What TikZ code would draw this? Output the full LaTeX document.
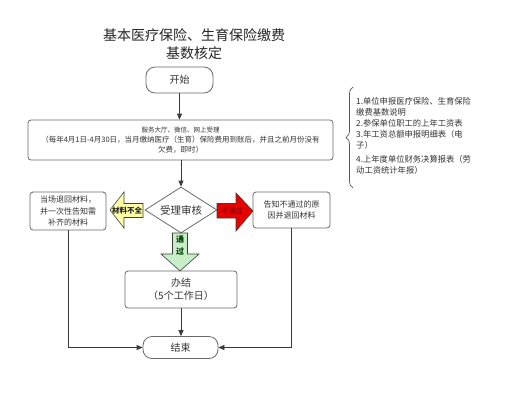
\documentclass[tikz,border=0pt]{standalone}
\usepackage{fontspec}
\setmainfont{Noto Sans CJK SC}
\usetikzlibrary{arrows.meta,decorations.pathreplacing,shapes.geometric}
\definecolor{linec}{HTML}{3A3A3A}
\definecolor{boxc}{HTML}{6A6A6A}
\definecolor{txt}{HTML}{333333}
\definecolor{yel}{HTML}{FFFFA6}
\definecolor{redf}{HTML}{E60000}
\definecolor{grn}{HTML}{C8EEC8}
\begin{document}
\begin{tikzpicture}[x=1pt,y=-1pt, text=txt,
  line/.style={draw=linec, line width=0.8pt},
  arr/.style={line, -{Triangle[length=6pt,width=5pt]}},
  box/.style={draw=boxc, line width=0.8pt, rounded corners=3pt, fill=white, inner sep=0pt, align=center},
  term/.style={draw=boxc, line width=0.8pt, rounded corners=9pt, inner sep=0pt, font=\fontsize{10}{12}\selectfont},
  fat/.style={draw=black!75, line width=0.6pt, line join=miter},
]
\useasboundingbox[fill=white] (0,0) rectangle (521,400);
\node[font=\fontsize{14}{18}\selectfont, align=center, inner sep=0pt, text=black!85] (title) at (194,44) {基本医疗保险、生育保险缴费\\基数核定};

\node[term, minimum width=67pt, minimum height=26pt] (start) at (179.5,80) {开始};

\node[box, minimum width=305pt, minimum height=40pt, font=\fontsize{7.5}{10}\selectfont] (wide) at (180.5,140)
  {{\fontsize{6.5}{10}\selectfont 服务大厅、微信、网上受理}\\（每年4月1日-4月30日，当月缴纳医疗（生育）保险费用到账后，并且之前月份没有\\欠费，即时）};

\draw[draw=black!65, line width=0.7pt, decorate, decoration={brace, amplitude=7pt}] (353,188) -- (353,87);
\node[anchor=north west, align=left, inner sep=0pt, font=\fontsize{8.3}{11}\selectfont] (docs) at (356,97.5)
  {1.单位申报医疗保险、生育保险\\缴费基数说明\\2.参保单位职工的上年工资表\\3.年工资总额申报明细表（电\\子）\\[2.5pt]4.上年度单位财务决算报表（劳\\动工资统计年报）};

\node[diamond, draw=boxc, line width=0.8pt, fill=white, inner sep=0pt, aspect=1.56, minimum width=72pt, minimum height=46pt, font=\fontsize{10.5}{12}\selectfont] (dia) at (181,210) {受理审核};

\node[box, minimum width=76pt, minimum height=38pt, font=\fontsize{8}{11.5}\selectfont] (left) at (68,211) {当场退回材料，\\并一次性告知需\\补齐的材料};
\node[box, minimum width=77pt, minimum height=36pt, font=\fontsize{8}{11.5}\selectfont] (right) at (291.5,210) {告知不通过的原\\因并退回材料};

\node[box, minimum width=112pt, minimum height=37pt, font=\fontsize{10}{13}\selectfont] (ban) at (181,289.5) {办结\\（5个工作日）};
\node[term, minimum width=75pt, minimum height=22pt] (end) at (180.5,347.5) {结束};

% fat arrows
\filldraw[fat, fill=yel] (110,210) -- (124,192) -- (124,203.5) -- (143,203.5) -- (143,217.5) -- (124,217.5) -- (124,228) -- cycle;
\node[inner sep=0pt, font=\fontsize{7.5}{9}\selectfont\bfseries, text=black!85] (ylab) at (127,210.5) {材料不全};

\filldraw[fat, fill=redf] (217,203.5) -- (236,203.5) -- (236,193) -- (253,211) -- (236,231) -- (236,218) -- (217,218) -- cycle;
\node[inner sep=0pt, font=\fontsize{7}{9}\selectfont, text=red!45!black] (rlab) at (232,211) {不通过};

\filldraw[fat, fill=grn] (172.5,233) -- (187.5,233) -- (187.5,254) -- (199,254) -- (180,271) -- (161,254) -- (172.5,254) -- cycle;
\node[inner sep=0pt, align=center, font=\fontsize{8}{12}\selectfont\bfseries, text=green!25!black] (glab) at (180,246) {通\\过};

% connectors
\draw[arr] (start.south) -- (start.south |- wide.north);
\draw[arr] (wide.south -| dia.north) -- (dia.north);
\draw[arr] (ban.south) -- (ban.south |- end.north);
\draw[arr] (left.south) |- (end.west);
\draw[arr] (right.south) |- (end.east);
\end{tikzpicture}
\end{document}
